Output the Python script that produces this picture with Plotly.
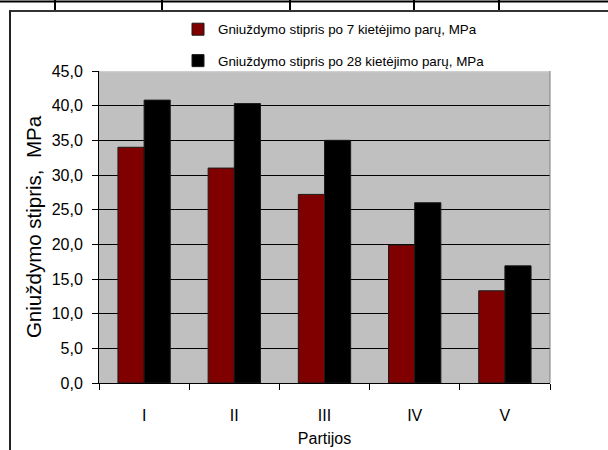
import plotly.graph_objects as go

categories = ["I", "II", "III", "IV", "V"]
strength_7d = [34.0, 31.0, 27.2, 19.9, 13.3]
strength_28d = [40.8, 40.3, 35.0, 26.0, 16.9]
series_names = [
    "Gniuždymo stipris po 7 kietėjimo parų, MPa",
    "Gniuždymo stipris po 28 kietėjimo parų, MPa",
]
y_ticks = [0, 5, 10, 15, 20, 25, 30, 35, 40, 45]
y_max = 45

W, H = 608, 450
L, R, T, B = 99, 550, 71, 383


def px(x):
    return (x - L) / (R - L)


def py(y):
    return (B - y) / (B - T)


fig = go.Figure()
fig.add_trace(go.Bar(
    x=categories, y=strength_7d, name=series_names[0],
    marker=dict(color="#800000", line=dict(color="#1a1a1a", width=1)),
    legendgroup="a",
))
fig.add_trace(go.Bar(
    x=categories, y=strength_28d, name=series_names[1],
    marker=dict(color="#000000", line=dict(color="#1a1a1a", width=1)),
    legendgroup="b",
))

shapes = []
# top table line
shapes.append(dict(type="line", xref="paper", yref="paper",
                   x0=px(0), x1=px(W), y0=py(1.5), y1=py(1.5),
                   line=dict(color="black", width=2)))
for vx in [55, 162, 290, 414, 499]:
    shapes.append(dict(type="line", xref="paper", yref="paper",
                       x0=px(vx), x1=px(vx), y0=py(0), y1=py(10),
                       line=dict(color="black", width=2)))
# frame
shapes.append(dict(type="line", xref="paper", yref="paper",
                   x0=px(9), x1=px(W), y0=py(11), y1=py(11),
                   line=dict(color="#333333", width=2)))
shapes.append(dict(type="line", xref="paper", yref="paper",
                   x0=px(10), x1=px(10), y0=py(11), y1=py(H),
                   line=dict(color="#222222", width=2)))
# plot area borders
shapes.append(dict(type="line", xref="paper", yref="paper",
                   x0=1, x1=1, y0=0, y1=1,
                   line=dict(color="#808080", width=1)))
shapes.append(dict(type="line", xref="paper", yref="y",
                   x0=0.003, x1=0.998, y0=y_max, y1=y_max, layer="above",
                   line=dict(color="#cfcfcf", width=2.5)))

fig.update_layout(
    width=W, height=H,
    margin=dict(l=L, r=W - R, t=T, b=H - B),
    paper_bgcolor="white",
    plot_bgcolor="#C0C0C0",
    separators=", ",
    barmode="group",
    bargap=0.42,
    bargroupgap=0,
    font=dict(family="Arial, Liberation Sans, sans-serif", color="black"),
    shapes=shapes,
    legend=dict(
        x=px(178), y=py(14), xanchor="left", yanchor="top",
        bgcolor="rgba(0,0,0,0)",
        font=dict(family="Arial, Liberation Sans", size=13.4),
        tracegroupgap=11,
        itemwidth=30,
    ),
    xaxis=dict(
        automargin=False,
        showline=True, linecolor="black", linewidth=1,
        ticks="outside", ticklen=6, tickcolor="black", tickson="boundaries",
        tickfont=dict(size=16),
        ticklabelstandoff=18,
        title=dict(text="Partijos", font=dict(size=16), standoff=9),
        showgrid=False,
    ),
    yaxis=dict(
        automargin=False,
        range=[0, y_max],
        tickvals=y_ticks,
        tickformat=".1f",
        showline=True, linecolor="black", linewidth=1,
        ticks="outside", ticklen=6, tickcolor="black",
        tickfont=dict(size=16),
        ticklabelstandoff=6,
        showgrid=True, gridcolor="black", gridwidth=1,
        zeroline=False,
        title=dict(text="Gniuždymo stipris,  MPa", font=dict(size=20.5), standoff=4),
    ),
)

fig.write_html("out.html")
